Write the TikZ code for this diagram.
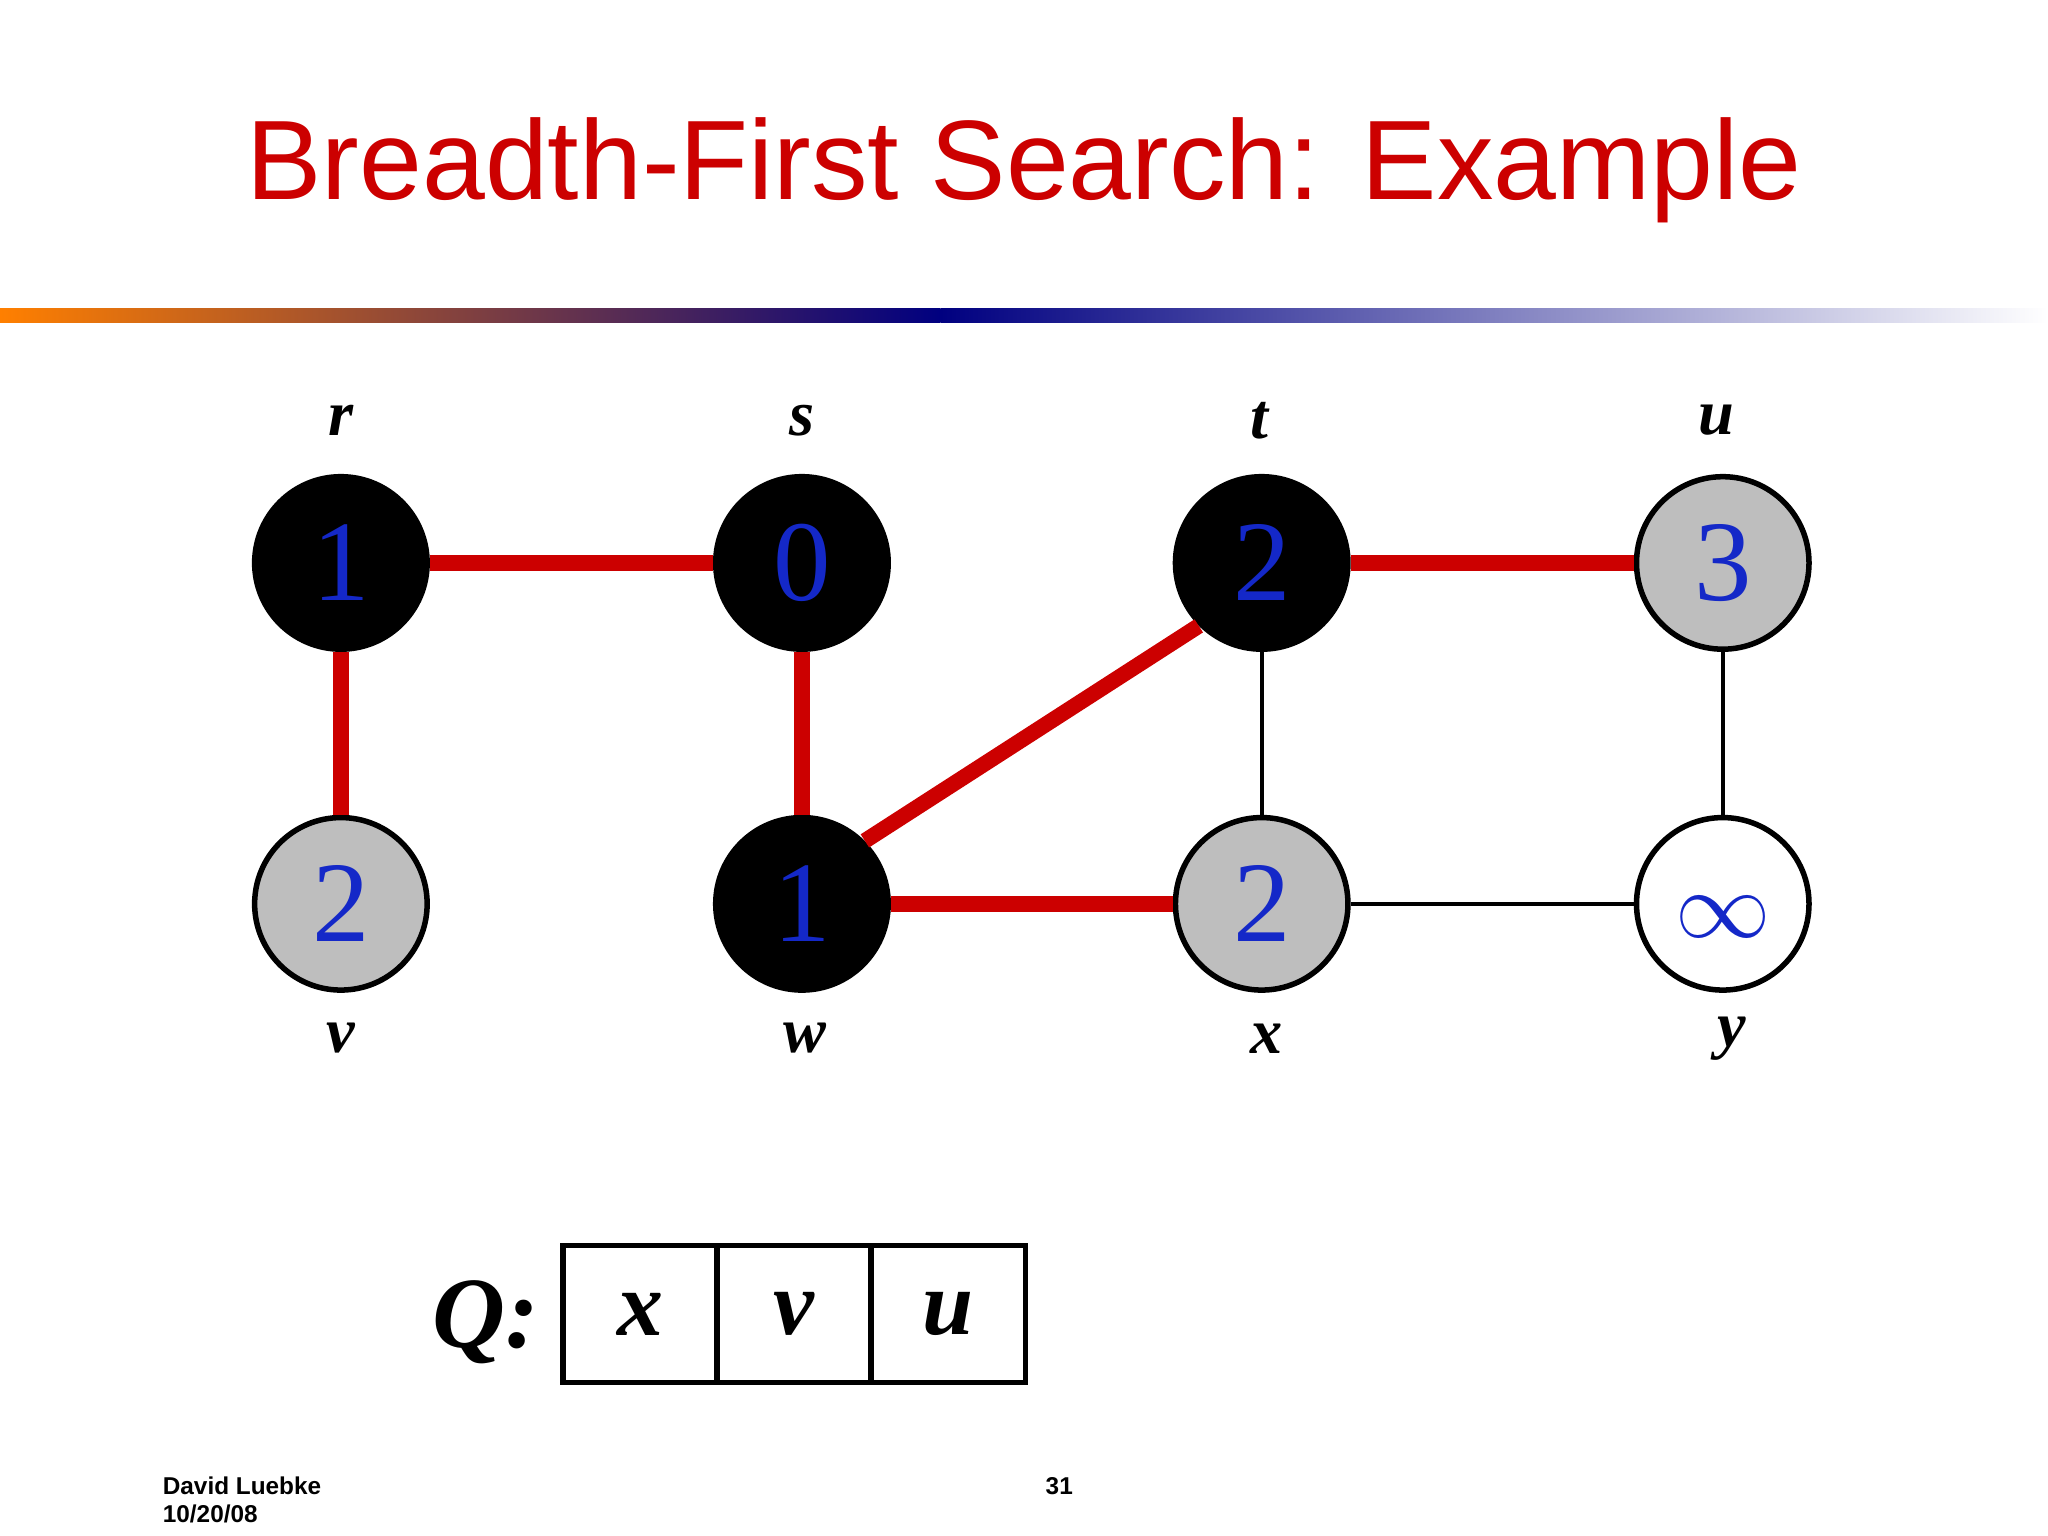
\documentclass[tikz,border=0pt]{standalone}
\usepackage{fontspec}
\setmainfont{Liberation Serif}
\newfontfamily\arialf{Liberation Sans}
\definecolor{bred}{RGB}{204,0,0}
\definecolor{bnavy}{RGB}{0,0,128}
\definecolor{bblue}{RGB}{20,40,200}
\definecolor{bgray}{RGB}{190,190,190}
\begin{document}
\begin{tikzpicture}[x=0.01cm,y=-0.01cm,
  vtx/.style={circle,minimum size=1.32cm,inner sep=0pt,line width=1.2pt,draw=black,text=bblue,font=\fontsize{25}{25}\selectfont},
  blk/.style={vtx,fill=black},
  gry/.style={vtx,fill=bgray},
  wht/.style={vtx,fill=white},
  lbl/.style={font=\fontsize{14}{14}\selectfont\bfseries\itshape},
  tree/.style={draw=bred,line width=3.4pt},
  plain/.style={draw=black,line width=0.9pt},
  qbox/.style={draw=black,line width=1.2pt,minimum width=1.18cm,minimum height=1.05cm,inner sep=0pt,font=\fontsize{20}{20}\selectfont\bfseries\itshape}]
\useasboundingbox (0,0) rectangle (1568,1176);
\node[font=\arialf\fontsize{24.6}{25}\selectfont,text=bred] (title) at (784,130) {Breadth-First Search: Example};
\shade[left color=orange,right color=bnavy] (0,236) rectangle (720,247);
\shade[left color=bnavy,right color=white] (720,236) rectangle (1568,247);
\node[blk] (r) at (261,431) {1};
\node[blk] (s) at (614,431) {0};
\node[blk] (t) at (966,431) {2};
\node[gry] (u) at (1319,431) {3};
\node[gry] (v) at (261,692) {2};
\node[blk] (w) at (614,692) {1};
\node[gry] (x) at (966,692) {2};
\node[wht] (y) at (1319,692) {};
\node[text=bblue,font=\fontsize{20}{20}\selectfont] (inf) at (1319,702) {$\infty$};
\draw[tree] (r) -- (s);
\draw[tree] (r) -- (v);
\draw[tree] (s) -- (w);
\draw[tree] (w.45) -- (t.225);
\draw[tree] (w) -- (x);
\draw[tree] (t) -- (u);
\draw[plain] (t) -- (x);
\draw[plain] (u) -- (y);
\draw[plain] (x) -- (y);
\node[lbl] (lr) at (261,322) {r};
\node[lbl] (ls) at (614,322) {s};
\node[lbl] (lt) at (964,322) {t};
\node[lbl] (lu) at (1314,322) {u};
\node[lbl] (lv) at (261,795) {v};
\node[lbl] (lw) at (616,795) {w};
\node[lbl] (lx) at (970,795) {x};
\node[lbl] (ly) at (1326,795) {y};
\node[qbox] (q1) at (490,1006) {\raisebox{-4pt}{x}};
\node[qbox] (q2) at (608,1006) {\raisebox{-4pt}{v}};
\node[qbox] (q3) at (726,1006) {\raisebox{-4pt}{u}};
\node[font=\fontsize{22}{22}\selectfont\bfseries\itshape] (ql) at (372,1012) {Q:};
\node[font=\arialf\bfseries\fontsize{5.3}{6}\selectfont,align=left,anchor=north west,inner sep=0pt] (auth) at (124,1130) {David Luebke\\10/20/08};
\node[font=\arialf\bfseries\fontsize{5.3}{6}\selectfont,inner sep=0pt] (pg) at (811,1138) {31};
\end{tikzpicture}
\end{document}
